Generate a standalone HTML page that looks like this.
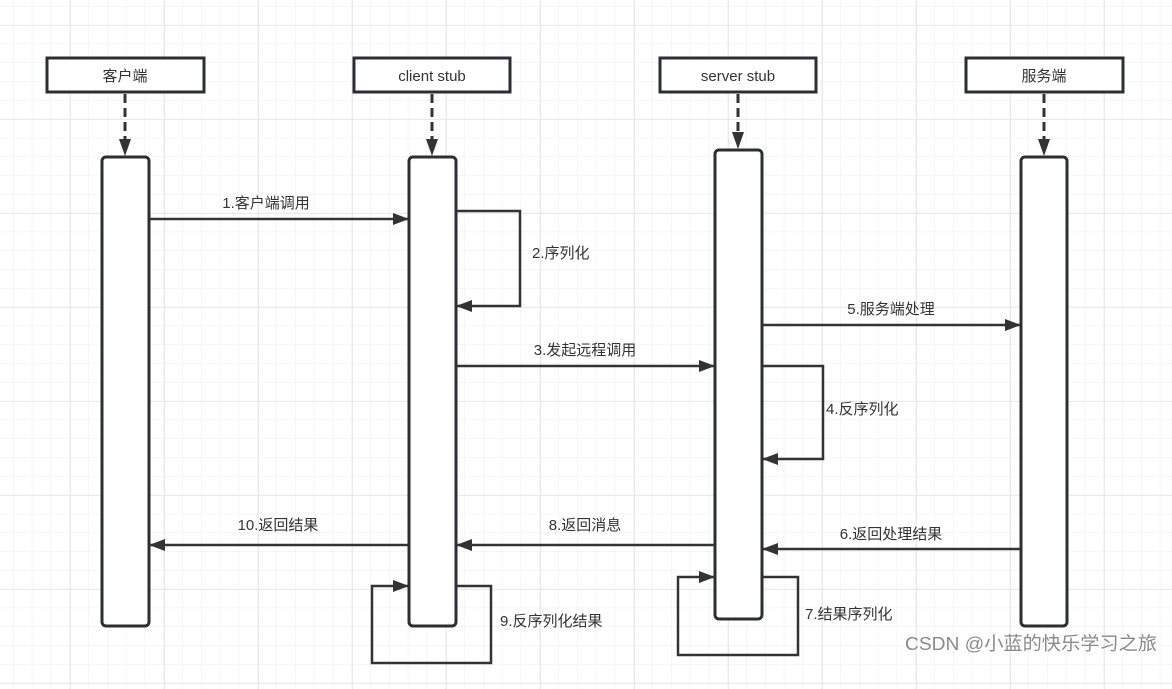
<!DOCTYPE html>
<html><head><meta charset="utf-8"><style>
html,body{margin:0;padding:0;background:#fff}
svg{display:block}
text{font-family:"Liberation Sans","Noto Sans CJK SC",sans-serif;font-size:15px;fill:#333}
</style></head><body>
<svg width="1172" height="689" viewBox="0 0 1172 689" xmlns="http://www.w3.org/2000/svg">
<defs>
<pattern id="g" x="13" y="6" width="18.8" height="18.8" patternUnits="userSpaceOnUse">
<path d="M0 0V18.8M0 0H18.8" stroke="#ececec" stroke-width="1" fill="none"/>
</pattern>
<pattern id="G" x="70" y="25" width="94" height="94" patternUnits="userSpaceOnUse">
<path d="M0 0V94M0 0H94" stroke="#e4e4e4" stroke-width="1.5" fill="none"/>
</pattern>
<marker id="b" markerWidth="16" markerHeight="12" refX="16" refY="6" orient="auto" markerUnits="userSpaceOnUse" viewBox="0 0 16 12">
<path d="M0 0 L16 6 L0 12 Z" fill="#333"/>
</marker>
</defs>
<rect width="1172" height="689" fill="url(#g)"/>
<rect width="1172" height="689" fill="url(#G)"/>
<g stroke="#2b2f33" stroke-width="3" fill="#fff">
<rect x="47" y="58" width="157" height="34"/>
<rect x="354" y="58" width="156" height="34"/>
<rect x="660" y="58" width="156" height="34"/>
<rect x="966" y="58" width="157" height="34"/>
</g>
<text x="125" y="81" text-anchor="middle">客户端</text>
<text x="432" y="81" text-anchor="middle">client stub</text>
<text x="738" y="81" text-anchor="middle">server stub</text>
<text x="1044" y="81" text-anchor="middle">服务端</text>
<g stroke="#333" stroke-width="3" stroke-dasharray="9,5" fill="none">
<path d="M125 94V140"/><path d="M432 94V140"/><path d="M738 94V133"/><path d="M1044 94V140"/>
</g>
<g fill="#333">
<path d="M119 139L131 139L125 156Z"/><path d="M426 139L438 139L432 156Z"/><path d="M732 132L744 132L738 149Z"/><path d="M1038 139L1050 139L1044 156Z"/>
</g>
<g stroke="#2b2f33" stroke-width="3" fill="#fff">
<rect x="102" y="157" width="47" height="469" rx="4"/>
<rect x="409" y="157" width="47" height="469" rx="4"/>
<rect x="715" y="150" width="47" height="469" rx="4"/>
<rect x="1021" y="157" width="46" height="469" rx="4"/>
</g>
<g stroke="#333" stroke-width="2.5" fill="none" marker-end="url(#b)">
<path d="M149 219H409"/>
<path d="M456 211H520V306H456"/>
<path d="M456 366H715"/>
<path d="M762 325H1021"/>
<path d="M762 366H823V459H762"/>
<path d="M1021 549H762"/>
<path d="M715 545H456"/>
<path d="M409 545H149"/>
<path d="M456 586H491V663H372V586H409"/>
<path d="M762 577H798V655H678V577H715"/>
</g>
<text x="266" y="208" text-anchor="middle">1.客户端调用</text>
<text x="532" y="258">2.序列化</text>
<text x="585" y="355" text-anchor="middle">3.发起远程调用</text>
<text x="891" y="314" text-anchor="middle">5.服务端处理</text>
<text x="826" y="414">4.反序列化</text>
<text x="891" y="539" text-anchor="middle">6.返回处理结果</text>
<text x="585" y="530" text-anchor="middle">8.返回消息</text>
<text x="278" y="530" text-anchor="middle">10.返回结果</text>
<text x="500" y="626">9.反序列化结果</text>
<text x="805" y="619">7.结果序列化</text>
<text x="905" y="650" style="font-size:18.5px;fill:#8a8a8a" textLength="252" lengthAdjust="spacingAndGlyphs">CSDN @小蓝的快乐学习之旅</text>
</svg>
</body></html>
